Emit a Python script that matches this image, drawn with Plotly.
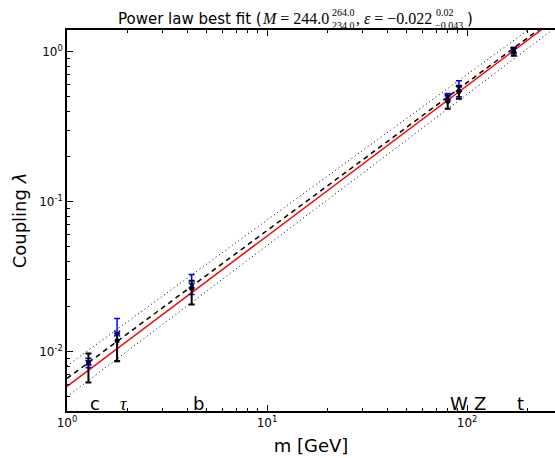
import numpy as np
import plotly.graph_objects as go

# ---------------- data ----------------
names = ["c", "<i>τ</i>", "b", "W", "Z", "t"]
mass = [1.28, 1.78, 4.2, 80.0, 91.0, 171.0]

lam_black = [0.0084, 0.0118, 0.0263, 0.467, 0.544, 1.00]
lam_black_hi = [0.0097, 0.0132, 0.0296, 0.509, 0.593, 1.06]
lam_black_lo = [0.0062, 0.0086, 0.0206, 0.417, 0.486, 0.94]

lam_blue = [0.0084, 0.0132, 0.0276, 0.500, 0.566, 1.02]
lam_blue_hi = [0.0090, 0.0166, 0.0326, 0.527, 0.641, 1.07]
lam_blue_lo = [0.0078, 0.0086, 0.0240, 0.470, 0.500, 0.97]

fit_m = [1.0, 275.0]
fit_red = [0.00585, 1.64]
fit_dash = [0.00661, 1.69]
band_hi = [0.00803, 1.887]
band_lo = [0.00499, 1.444]

label_m = [1.27, 1.80, 4.18, 80.4, 106.0, 173.0]

x_major = [1, 10, 100]
x_major_text = ["10<sup>0</sup>", "10<sup>1</sup>", "10<sup>2</sup>"]
y_major = [0.01, 0.1, 1]
y_major_text = ["10<sup>-2</sup>", "10<sup>-1</sup>", "10<sup>0</sup>"]

# ---------------- layout constants ----------------
W, H = 555, 458
L, R, T, B = 67, 0, 30, 47
PW, PH = W - L - R, H - T - B


def px_x(px):
    return (px - L) / PW


def px_y(py):
    return (H - B - py) / PH


minor_x = [k * 10 ** d for d in range(0, 3) for k in range(2, 10)]
minor_y = [k * 10.0 ** d for d in range(-3, 1) for k in range(2, 10)]

fig = go.Figure()

# fit lines
fig.add_trace(go.Scatter(x=fit_m, y=band_hi, mode="lines",
                         line=dict(color="black", width=1, dash="1px,3px")))
fig.add_trace(go.Scatter(x=fit_m, y=band_lo, mode="lines",
                         line=dict(color="black", width=1, dash="1px,3px")))
fig.add_trace(go.Scatter(x=fit_m, y=fit_dash, mode="lines",
                         line=dict(color="black", width=1.5, dash="5px,4px")))
fig.add_trace(go.Scatter(x=fit_m, y=fit_red, mode="lines",
                         line=dict(color="red", width=1.5)))

# blue points
b_up = [h - v for h, v in zip(lam_blue_hi, lam_blue)]
b_dn = [v - l for v, l in zip(lam_blue, lam_blue_lo)]
fig.add_trace(go.Scatter(
    x=mass, y=lam_blue, mode="markers",
    marker=dict(symbol="x-thin", size=6, line=dict(color="blue", width=1.5), color="blue"),
    error_y=dict(type="data", symmetric=False, array=b_up, arrayminus=b_dn,
                 color="blue", thickness=1.5, width=3)))

# black points
k_up = [h - v for h, v in zip(lam_black_hi, lam_black)]
k_dn = [v - l for v, l in zip(lam_black, lam_black_lo)]
fig.add_trace(go.Scatter(
    x=mass, y=lam_black, mode="markers",
    marker=dict(symbol="circle", size=5, color="black"),
    error_y=dict(type="data", symmetric=False, array=k_up, arrayminus=k_dn,
                 color="black", thickness=2, width=3)))

annotations = []
# particle labels
for n, m in zip(names, label_m):
    fam = "Liberation Serif" if "τ" in n else "DejaVu Sans"
    annotations.append(dict(x=np.log10(m), y=px_y(403.5), xref="x", yref="paper",
                            text=n, showarrow=False, xanchor="left", yanchor="middle",
                            font=dict(size=18, family=fam, color="black")))

# title pieces
sans = "DejaVu Sans"
serif = "Liberation Serif"
title_parts = [
    ("Power law best fit (", 263, 18.7, "right", sans, 15),
    ("<i>M</i> = 244.0", 261, 18.7, "left", serif, 16),
    ("264.0", 331, 12.0, "left", serif, 10),
    ("234.0", 331, 25.0, "left", serif, 10),
    (", <i>ε</i> = −0.022", 355, 18.7, "left", serif, 16),
    ("0.02", 435, 12.0, "left", serif, 10),
    ("−0.043", 434, 25.0, "left", serif, 10),
    (")", 466, 18.7, "left", sans, 15),
]
for txt, px, py, anc, fam, sz in title_parts:
    annotations.append(dict(x=px_x(px), y=px_y(py), xref="paper", yref="paper",
                            text=txt, showarrow=False, xanchor=anc, yanchor="middle",
                            borderpad=0, font=dict(size=sz, family=fam, color="black")))

fig.update_layout(
    width=W, height=H, margin=dict(l=L, r=R, t=T, b=B),
    showlegend=False, plot_bgcolor="white", paper_bgcolor="white",
    annotations=annotations,
    font=dict(family="DejaVu Sans", color="black"),
)

fig.update_xaxes(
    type="log", range=[0, np.log10(fit_m[1])], tickmode="array",
    tickvals=x_major, ticktext=x_major_text,
    ticks="inside", ticklen=6, tickwidth=1, tickcolor="black",
    showline=True, linecolor="black", linewidth=1.5, mirror="ticks",
    showgrid=False, zeroline=False,
    minor=dict(tickmode="array", tickvals=minor_x, ticks="inside", ticklen=3,
               tickwidth=1, tickcolor="black", showgrid=False),
    tickfont=dict(size=12, family="DejaVu Sans", color="black"),
    title=dict(text="m [GeV]", font=dict(size=18, family="DejaVu Sans", color="black"), standoff=10),
    automargin=False,
)
fig.update_yaxes(
    type="log", range=[-2.397, 0.145], tickmode="array",
    tickvals=y_major, ticktext=y_major_text,
    ticks="inside", ticklen=6, tickwidth=1, tickcolor="black",
    showline=True, linecolor="black", linewidth=1.5, mirror=False,
    showgrid=False, zeroline=False,
    minor=dict(tickmode="array", tickvals=minor_y, ticks="inside", ticklen=3,
               tickwidth=1, tickcolor="black", showgrid=False),
    tickfont=dict(size=12, family="DejaVu Sans", color="black"),
    title=dict(text="Coupling <i>λ</i>", font=dict(size=18, family="DejaVu Sans", color="black"), standoff=8),
    automargin=False,
)

fig.write_html("out.html")
